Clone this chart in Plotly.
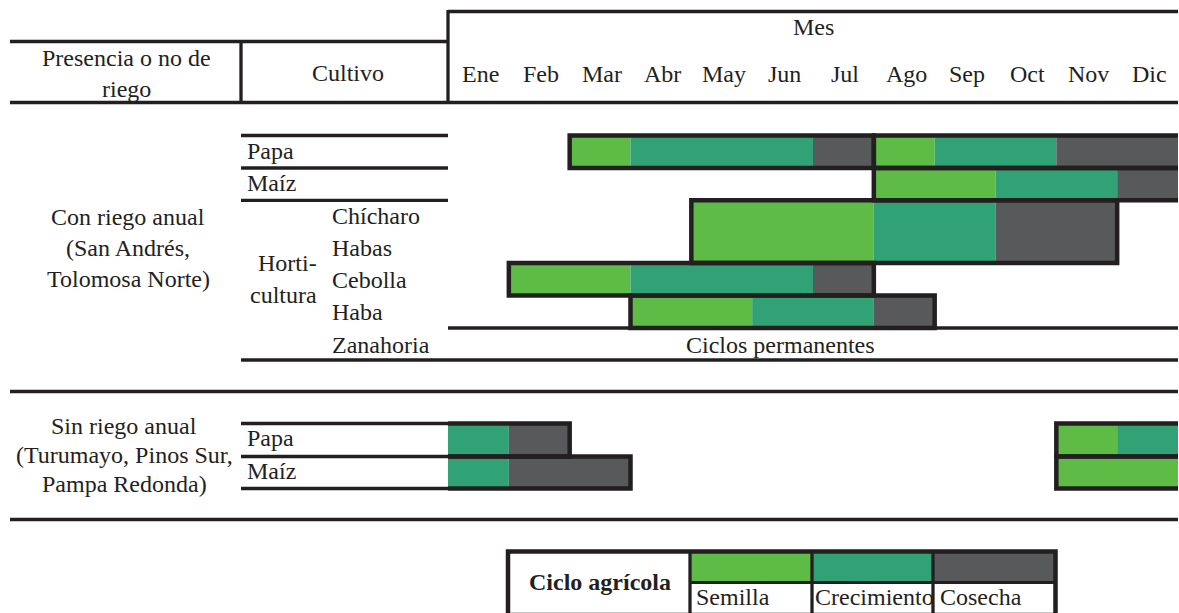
import plotly.graph_objects as go

W, H = 1179, 613

months = ["Ene", "Feb", "Mar", "Abr", "May", "Jun", "Jul", "Ago", "Sep", "Oct", "Nov", "Dic"]
stages = ["Semilla", "Crecimiento", "Cosecha"]
stage_colors = {"Semilla": "#5DBB46", "Crecimiento": "#30A276", "Cosecha": "#58595B"}

# each crop row: list of cycles, a cycle is a list of (stage, first month, last month)
papa_riego = [
    [("Semilla", "Mar", "Mar"), ("Crecimiento", "Abr", "Jun"), ("Cosecha", "Jul", "Jul")],
    [("Semilla", "Ago", "Ago"), ("Crecimiento", "Sep", "Oct"), ("Cosecha", "Nov", "Dic")],
]
maiz_riego = [
    [("Semilla", "Ago", "Sep"), ("Crecimiento", "Oct", "Nov"), ("Cosecha", "Dic", "Dic")],
]
chicharo_habas = [
    [("Semilla", "May", "Jul"), ("Crecimiento", "Ago", "Sep"), ("Cosecha", "Oct", "Nov")],
]
cebolla = [
    [("Semilla", "Feb", "Mar"), ("Crecimiento", "Abr", "Jun"), ("Cosecha", "Jul", "Jul")],
]
haba = [
    [("Semilla", "Abr", "May"), ("Crecimiento", "Jun", "Jul"), ("Cosecha", "Ago", "Ago")],
]
papa_secano = [
    [("Crecimiento", "Ene", "Ene"), ("Cosecha", "Feb", "Feb")],
    [("Semilla", "Nov", "Nov"), ("Crecimiento", "Dic", "Dic")],
]
maiz_secano = [
    [("Crecimiento", "Ene", "Ene"), ("Cosecha", "Feb", "Mar")],
    [("Semilla", "Nov", "Dic")],
]

group_riego = ["Con riego anual", "(San Andrés,", "Tolomosa Norte)"]
group_secano = ["Sin riego anual", "(Turumayo, Pinos Sur,", "Pampa Redonda)"]
horti_crops = ["Chícharo", "Habas", "Cebolla", "Haba", "Zanahoria"]

# --- layout (pixels) ---
X0, X1 = 448, 1178           # month area
MPX = (X1 - X0) / 12.0       # pixels per month
INK = "#231F20"
FONT = "'Liberation Serif', 'Times New Roman', 'DejaVu Serif', serif"
FS = 24

# row bands (top, bottom) in pixels
bands = {
    "papa_riego": (135.5, 168),
    "maiz_riego": (168, 200.3),
    "chicharo_habas": (200.3, 263),
    "cebolla": (263, 295.5),
    "haba": (295.5, 328),
    "papa_secano": (423.5, 456.5),
    "maiz_secano": (456.5, 488.5),
}
schedule = {
    "papa_riego": papa_riego,
    "maiz_riego": maiz_riego,
    "chicharo_habas": chicharo_habas,
    "cebolla": cebolla,
    "haba": haba,
    "papa_secano": papa_secano,
    "maiz_secano": maiz_secano,
}

fig = go.Figure()

# bars, one trace per stage
shapes = []
for st in stages:
    ys, ws, bases, lens = [], [], [], []
    for key, cycles in schedule.items():
        top, bot = bands[key]
        for cyc in cycles:
            for s, m0, m1 in cyc:
                if s != st:
                    continue
                a = months.index(m0)
                b = months.index(m1) + 1
                ys.append((top + bot) / 2)
                ws.append(bot - top)
                bases.append(a)
                lens.append(b - a)
    fig.add_trace(go.Bar(
        orientation="h", y=ys, x=lens, base=bases, width=ws,
        marker=dict(color=stage_colors[st], line=dict(width=0)),
        name=st, showlegend=False, hoverinfo="skip",
    ))

# outline around each cycle; open at the year boundary
for key, cycles in schedule.items():
    top, bot = bands[key]
    for cyc in cycles:
        a = months.index(cyc[0][1])
        b = months.index(cyc[-1][2]) + 1
        if a > 0 and b < 12:
            path = f"M {a},{top} L {b},{top} L {b},{bot} L {a},{bot} Z"
        elif a == 0:
            path = f"M {a},{top} L {b},{top} L {b},{bot} L {a},{bot}"
        else:
            path = f"M {b},{top} L {a},{top} L {a},{bot} L {b},{bot}"
        shapes.append(dict(type="path", path=path, xref="x", yref="y",
                           line=dict(color=INK, width=4.5),
                           fillcolor="rgba(0,0,0,0)", layer="above"))

# table rules (y, x0, x1)
h_rules = [
    (11.5, 448, 1178), (41.5, 10, 448), (102.5, 10, 1178),
    (135.5, 241, 448), (168, 241, 448), (200.3, 241, 448),
    (328, 448, 1178), (360, 241, 1178),
    (391.5, 10, 1178),
    (423.5, 241, 448), (456.5, 241, 448), (488.5, 241, 448),
    (519.5, 10, 1178),
]
v_rules = [(448, 10, 104), (241, 40, 104)]
for y, a, b in h_rules:
    shapes.append(dict(type="line", xref="x2", yref="y", x0=a, x1=b, y0=y, y1=y,
                       line=dict(color=INK, width=3.3)))
for x, a, b in v_rules:
    shapes.append(dict(type="line", xref="x2", yref="y", x0=x, x1=x, y0=a, y1=b,
                       line=dict(color=INK, width=3.3)))

# legend box
leg_x = [690, 812, 933, 1055.5]
leg_top, leg_mid, leg_bot = 551.5, 582.5, 615
for i, st in enumerate(stages):
    shapes.append(dict(type="rect", xref="x2", yref="y", x0=leg_x[i], x1=leg_x[i + 1],
                       y0=leg_top, y1=leg_mid, fillcolor=stage_colors[st],
                       line=dict(width=0), layer="above"))
shapes.append(dict(type="rect", xref="x2", yref="y", x0=508, x1=leg_x[-1],
                   y0=leg_top, y1=leg_bot, line=dict(color=INK, width=4.5),
                   fillcolor="rgba(0,0,0,0)"))
shapes.append(dict(type="line", xref="x2", yref="y", x0=leg_x[0], x1=leg_x[-1],
                   y0=leg_mid, y1=leg_mid, line=dict(color=INK, width=3)))
for x in leg_x[:-1]:
    shapes.append(dict(type="line", xref="x2", yref="y", x0=x, x1=x,
                       y0=leg_top, y1=leg_bot, line=dict(color=INK, width=3.3)))

# texts
ann = []


def txt(x, y, s, anchor="center", bold=False, size=FS):
    ann.append(dict(x=x, y=y, xref="x2", yref="y", text=f"<b>{s}</b>" if bold else s,
                    showarrow=False, xanchor=anchor, yanchor="middle",
                    font=dict(family=FONT, size=size, color=INK)))


txt((X0 + X1) / 2, 27, "Mes")
for i, m in enumerate(months):
    txt(X0 + (i + 0.5) * MPX + 2, 74, m)
txt(126, 58, "Presencia o no de")
txt(126, 89, "riego")
txt(348, 73, "Cultivo")

for line, y in zip(group_riego, [217, 248, 279]):
    txt(128, y, line)
for line, y in zip(group_secano, [426, 455, 484]):
    txt(124, y, line)

txt(245, 151, "Papa", "left")
txt(245, 183, "Maíz", "left")
for c, y in zip(horti_crops, [216, 248, 280, 312, 345]):
    txt(330, y, c, "left")
txt(319, 263, "Horti-", "right")
txt(319, 295, "cultura", "right")
txt(780, 345, "Ciclos permanentes")

txt(245, 438, "Papa", "left")
txt(245, 471, "Maíz", "left")

txt(600, 582, "Ciclo agrícola", bold=True)
for x, st in zip([694, 813, 938], stages):
    txt(x, 597, st, "left")

fig.update_layout(
    width=W, height=H,
    margin=dict(l=0, r=0, t=0, b=0),
    paper_bgcolor="white", plot_bgcolor="white",
    barmode="overlay",
    showlegend=False,
    xaxis=dict(range=[-X0 / MPX, (W - X0) / MPX], visible=False, fixedrange=True),
    xaxis2=dict(range=[0, W], visible=False, overlaying="x", anchor="y", fixedrange=True),
    yaxis=dict(range=[H, 0], visible=False, fixedrange=True),
    shapes=shapes,
    annotations=ann,
)

# drop the default page margin so the figure sits at the window's corner
fig.write_html("out.html", config={"displayModeBar": False},
               post_script="document.body.style.margin='0';document.body.style.overflow='hidden';")
